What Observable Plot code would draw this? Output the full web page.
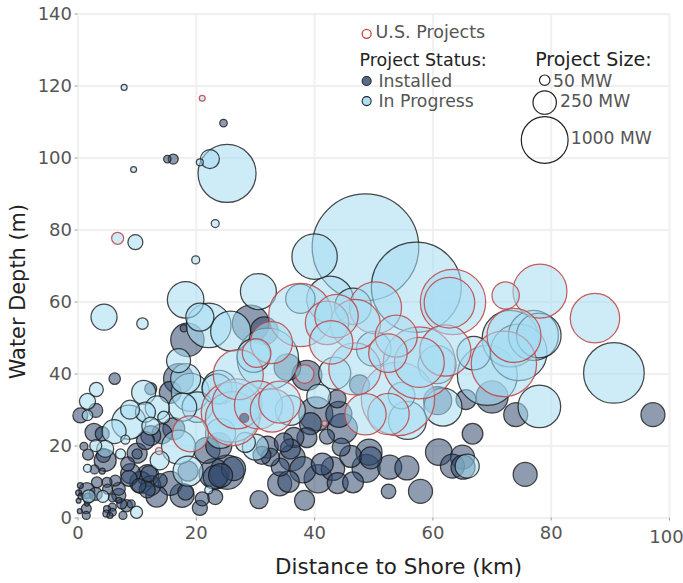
<!DOCTYPE html>
<html><head><meta charset="utf-8">
<script src="https://cdn.jsdelivr.net/npm/d3@7"></script>
<script src="https://cdn.jsdelivr.net/npm/@observablehq/plot@0.6"></script>
<style>html,body{margin:0;padding:0;background:#fff}svg{display:block}</style>
</head><body><div id="c"></div>
<script>
// [distance km, depth m, MW]
const installed = [
[24.6,109.7,26],[15.1,99.7,25],[16.1,99.7,46],[18.5,49.5,510],[17.9,52.7,25],[29.2,54,620],[31.5,52,350],
[17,38.7,410],[15.6,34.9,220],[6.2,38.7,60],[0.4,28.5,103],[3,29.9,90],[2.7,23.8,148],[4.1,23.4,90],[12.3,35.9,66],
[35.4,41.9,325],[38.7,39.6,410],[43.8,33.1,148],[44.1,28.8,310],[47.6,37,183],[40.2,28.9,530],[39.3,26.2,220],[42.1,22.6,103],[44.7,24.8,410],[38.7,22.3,183],[36.5,22.4,183],[34.8,21,165],[35.9,19.2,183],[34.2,14.1,148],[36.2,16.7,310],[34.1,9.5,263],[35.6,10.1,210],[38.3,4.9,183],[38,13.4,310],[40.6,10.9,360],[41.3,15,220],[44.5,19.7,148],[46.1,17.1,220],[43.1,13.7,250],[43.9,9.7,200],[46.5,9.9,200],[49.2,18.3,310],[49.5,16.7,220],[48.7,13.8,360],[52.7,14.1,263],[55.6,13.9,263],[52.5,7.4,97],[57.9,7.4,263],
[60.8,32.6,360],[65.6,32.9,183],[66.7,23.4,195],[61,18.3,325],[65,16.9,263],[63.3,14.4,263],[65.1,14.1,263],[70,33.6,470],[74,28.7,263],[97.2,28.7,263],[75.6,12.1,263],
[32.5,16.9,148],[31.1,17.4,148],[32,19.7,220],[30.6,5.1,148],
[21.8,18.8,310],[23.8,20.1,310],[14.2,23.4,183],[11.4,21.5,148],[16.2,24.8,220],[12.3,22.9,183],[10,18,183],[10,17.8,46],[18.6,13,183],[25.2,12.7,530],[23.2,11.3,263],[23,12.3,410],[26.3,13.7,263],[24.1,11.8,263],[23.2,5.8,103],[21,5.3,90],[20.6,2.8,103],[17.6,6.3,263],[18.2,7.2,117],[15.6,9.6,263],[13.3,6,210],[11.7,7.8,117],[10.3,9,90],[12,12.3,117],[13.9,10.4,90],[11.8,11.8,220],[10.6,9.9,220],[12.3,9,183],[8.9,12.3,183],[8.6,11,117],[8.4,15,90],
[1,19.9,29],[1.7,17.6,55],[2.8,13.5,37],[4.1,13,16],[4.6,16,220],[4.3,17.4,90],[3.2,9.9,55],[4.9,9.9,46],[6.3,10.4,55],[6.9,8.1,77],[6.9,6.3,90],[5.8,5.6,29],[3,6.7,77],[1.5,7.6,117],[0.4,9,16],[0.1,7,16],[0.1,4.8,11],[0.3,1.9,11],[1.4,2.6,46],[1.4,0.7,29],[1.5,4,11],[4.9,2.5,22],[5.8,3,29],[5.8,1.6,29],[5.4,0.7,16],[4.8,1.2,22],[7.6,0.7,29],[7.4,3.9,46],[9,3.9,29],[8.2,3.4,66],[6.9,4.9,16],[1.7,5.5,46],[5,8,46],[0.5,6,16]
];
const inProgress = [
[7.8,119.6,16],[9.4,96.8,16],[20.6,98.8,22],[22.3,99.7,165],[25.2,95.7,1536],[23.2,81.8,29],[9.7,76.6,103],[19.9,71.7,29],
[18.2,60.6,610],[30.5,62.9,592],[40,72.6,940],[48.6,75.2,5190],[57.2,64.1,3700],[37.6,60.9,395],[42.6,60.7,990],[46.5,58.8,610],[50,47,550],[60.7,42.6,660],[66.9,45.8,510],[43.4,40.2,470],[55.7,27.1,660],[54.7,34,325],[61.7,30.8,660],[40.7,33.8,263],[20.6,55.8,360],[22.1,53.5,910],[25.8,51.9,730],[17,43.7,263],[18.2,38.7,410],[19,34.9,660],[10.9,54,60],[4.4,55.8,310],
[32.1,44.2,1720],[29.7,45.1,510],[23.9,36.3,530],[35.9,29.9,410],[24.1,23.5,410],
[17,19.7,530],[13.8,16,165],[18.6,13,410],[22.1,7.8,29],[9.9,1.6,66],[30,19.7,310],[28.3,21,183],
[4.6,19.2,132],[3,20.1,66],[1.6,13.8,29],[7.2,17.8,46],[4.2,6,66],[1.8,6,77],
[3.1,35.7,90],[1.6,32.4,117],[1.6,28.5,51],[11.1,34.9,263],[8.8,30.1,165],[13.4,30.6,263],[11.4,29.4,183],[8.6,26.6,530],[6.1,24,263],[8,21.8,37],[17.7,30.8,360],[20.2,30.8,430],[23.5,35.9,410],[14.5,28,66],[12.3,25.5,148],
[65.8,14.4,263],[78,31,830],[90.6,40.3,1680],[73.1,49.8,1460],[74.5,46,1460],[77,50.7,1140],[77.9,50.7,910],[69.2,39.6,1640]
];
const usInProgress = [
[42.1,54.2,860],[57.7,43.2,1140],[52.4,45.8,680],[52.5,28.9,780],[30.2,45.8,375],[26.9,31.7,1140],[32.8,29.9,860],
[37.6,56.4,1835],[43.7,56.1,860],[46.9,53.8,1140],[50.3,58.4,1235],[42.8,48.8,860],[53.8,50.5,805],[57.7,43.1,2370],[62.1,46.5,1200],[46.8,41.4,1235],[54.1,33.1,2460],[48.6,28.8,780],[63.4,60,1950],[62.8,59.8,1170],[32.7,48.7,805],[38.3,40,158],[41.7,26.3,14],[27.1,39.8,1140],[30.5,31.4,1050],[34.1,32.2,805],[26.1,27.6,1330],[25.9,29.4,1640],[19,23.4,592],[13.7,18.6,22],[21,116.6,16],[6.7,77.7,66],[78.1,63,1330],[72.3,61.8,340],[87.4,55.5,1115],[73.7,50.7,1330],[72,42.8,1950]
];
const usInstalled = [[28.1,27.8,37]];
const xTicks = [0,20,40,60,80,100];
const yTicks = [0,20,40,60,80,100,120,140];
const sizeLegend = [[78.9,121.6,50,"50 MW",80.3,121.3],[78.9,115.4,250,"250 MW",81.5,115.6],[78.9,105,1000,"1000 MW",83.3,105.5]];
const statusLegend = [[48.8,121.4,37,"Installed","#1f3a63",0.75],[48.8,115.8,37,"In Progress","#9fd9ef",0.85]];

const navy="#334a70", sky="#a5dcf2", dark="#1a1a1a", red="#c04848";
const bubbles=(arr,fill,stroke,so)=>Plot.dot(arr,{x:d=>d[0],y:d=>d[1],r:d=>d[2],fill,fillOpacity:0.55,stroke,strokeOpacity:so,strokeWidth:1.25});
const plot=Plot.plot({
  width:683,height:583,marginLeft:77.5,marginRight:14,marginTop:13.5,marginBottom:65.5,
  style:{fontFamily:"DejaVu Sans",background:"#fff"},
  x:{domain:[0,100]},y:{domain:[0,140]},
  r:{type:"sqrt",domain:[0,1000],range:[0,23.4]},
  marks:[
    Plot.gridX(xTicks,{stroke:"#f0f0f0",strokeOpacity:1,strokeWidth:2}),
    Plot.gridY(yTicks,{stroke:"#f0f0f0",strokeOpacity:1,strokeWidth:2}),
    Plot.axisX({ticks:xTicks,tickSize:3,tickPadding:5,fontSize:18,color:"#555",stroke:"#999",label:null,tickFormat:d=>d===100?"":d}),
    Plot.text([100],{x:d=>d,y:-5,text:d=>String(d),dx:-3,dy:1,fontSize:18,fill:"#555"}),
    Plot.axisY({ticks:yTicks,tickSize:3,tickPadding:3,fontSize:18,color:"#555",stroke:"#999",label:null}),
    Plot.text(["Distance to Shore (km)"],{x:54.2,y:-13.75,text:d=>d,fontSize:21.4,fill:"#222"}),
    Plot.text(["Water Depth (m)"],{x:-10.06,y:62.9,text:d=>d,rotate:-90,fontSize:20.9,fill:"#222"}),
    bubbles(installed,navy,dark,0.8),
    bubbles(inProgress,sky,dark,0.8),
    bubbles(usInProgress,sky,red,0.88),
    bubbles(usInstalled,navy,red,0.88),
    // legend
    Plot.dot([[48.8,134.5,37]],{x:d=>d[0],y:d=>d[1],r:d=>d[2],fill:"#fff",stroke:red,strokeWidth:1.3}),
    Plot.text(["U.S. Projects"],{x:50.3,y:134.9,text:d=>d,textAnchor:"start",fontSize:17.5,fill:"#555"}),
    Plot.text(["Project Status:"],{x:47.6,y:127.1,text:d=>d,textAnchor:"start",fontSize:17.5,fill:"#222"}),
    Plot.text(["Project Size:"],{x:77.3,y:127.2,text:d=>d,textAnchor:"start",fontSize:19,fill:"#222"}),
    Plot.dot(statusLegend,{x:d=>d[0],y:d=>d[1],r:d=>d[2],fill:d=>d[4],fillOpacity:d=>d[5],stroke:"#222",strokeWidth:1.1}),
    Plot.text(statusLegend,{x:50.8,y:d=>d[1],text:d=>d[3],textAnchor:"start",fontSize:17.3,fill:"#555"}),
    Plot.dot(sizeLegend,{x:d=>d[0],y:d=>d[1],r:d=>d[2],fill:"none",stroke:"#222",strokeWidth:1.2}),
    Plot.text(sizeLegend,{x:d=>d[4],y:d=>d[5],text:d=>d[3],textAnchor:"start",fontSize:17.2,fill:"#555"})
  ]
});
document.getElementById("c").append(plot);
</script></body></html>
